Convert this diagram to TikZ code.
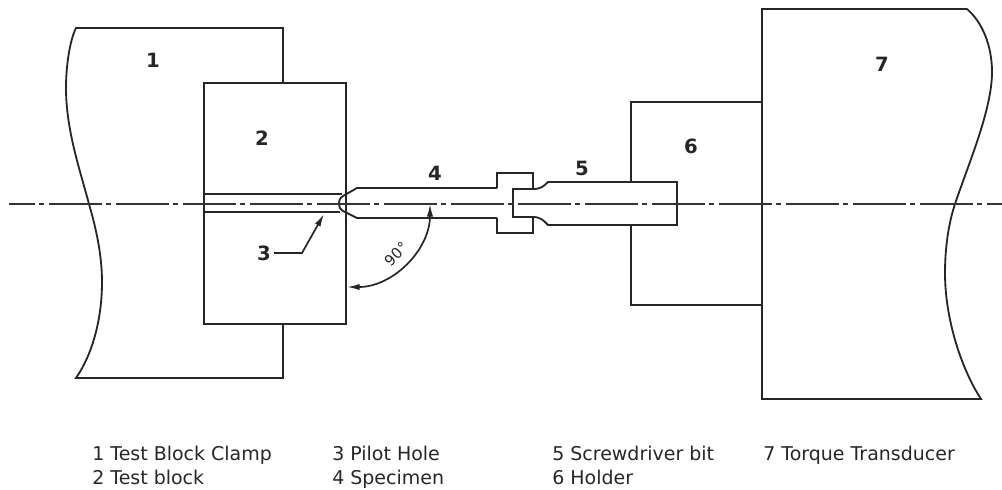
\documentclass[tikz,border=0pt]{standalone}
\usepackage{fontspec}
\setmainfont{DejaVu Sans}
\usetikzlibrary{arrows.meta}
\setlength{\unitlength}{0.025cm}
\newcommand{\partLabel}[3]{%%
  \node[labelStyle] (#1) at (#2) {#3};
}
\newcommand{\keyEntry}[3]{%%
  \node[keyStyle] (#1) at (#2) {#3};
}
\begin{document}
\begin{tikzpicture}[%%
  x=0.025cm,y=-0.025cm,%%
  lineStyle/.style={-,line width=1.3pt,line join=miter,color=black!85},%%
  centreStyle/.style={-,line width=1.2pt,color=black!80,dash pattern=on 53\unitlength off 4\unitlength on 5\unitlength off 5\unitlength,dash phase=27\unitlength},%%
  arrowStyle/.style={-{Latex[length=9pt,width=4.5pt]},line width=1.2pt,color=black!85},%%
  labelStyle/.style={inner sep=0pt,font=\fontsize{14}{14}\selectfont\bfseries,color=black!85},%%
  keyStyle/.style={inner sep=0pt,anchor=base west,font=\fontsize{13.5}{14}\selectfont,color=black!85}
]
\useasboundingbox (0,0) rectangle (1002,489);
%%
%%
%% The centre line.
\coordinate (lineStart) at (9,204);
\coordinate (lineEnd) at (1002,204);
%%
%% The clamp, the block and the pilot hole.
\draw[lineStyle] (283,83) -- (283,28) -- (76,28)
  .. controls (70,40) and (66,65) .. (66,88)
  .. controls (66,130) and (80,170) .. (89,204)
  .. controls (96,228) and (102,255) .. (102,282)
  .. controls (102,320) and (92,355) .. (76,378)
  -- (283,378) -- (283,324);
\draw[lineStyle] (204,83) rectangle (346,324);
\draw[lineStyle] (204,194) -- (342,194);
\draw[lineStyle] (204,212) -- (340,212);
%%
%% The specimen.
\draw[lineStyle] (497,188) -- (357,188) -- (343,196)
  .. controls (340,198) and (339,200) .. (339,204)
  .. controls (339,207) and (340,209) .. (343,211)
  -- (357,218) -- (497,218);
\draw[lineStyle] (497,188) -- (497,173) -- (533,173) -- (533,189)
  -- (513,189) -- (513,217) -- (533,217) -- (533,233) -- (497,233) -- (497,218);
%%
%% The screwdriver bit.
\draw[lineStyle] (533,189) .. controls (541,189) and (544,186) .. (548,182)
  -- (677,182) -- (677,225) -- (548,225)
  .. controls (544,221) and (541,217) .. (533,217);
%%
%% The holder and the transducer.
\draw[lineStyle] (631,182) -- (631,102) -- (762,102);
\draw[lineStyle] (631,225) -- (631,305) -- (762,305);
\draw[lineStyle] (967,9) -- (762,9) -- (762,399) -- (981,399)
  .. controls (962,370) and (945,320) .. (945,273)
  .. controls (945,250) and (948,225) .. (955,204)
  .. controls (968,165) and (992,110) .. (992,72)
  .. controls (992,45) and (982,22) .. (967,9);
%%
\draw[centreStyle] (lineStart) -- (lineEnd);
%%
%% The part numbers.
\partLabel{labelA}{153,60}{1}
\partLabel{labelB}{262,138}{2}
\partLabel{labelC}{264,253}{3}
\partLabel{labelD}{435,173}{4}
\partLabel{labelE}{582,168}{5}
\partLabel{labelF}{691,146}{6}
\partLabel{labelG}{882,64}{7}
%%
%% The leader and the angle.
\coordinate (holeTip) at (324,214);
\coordinate (kneeC) at (302,253);
\draw[arrowStyle] (labelC.east) ++(3,0) -- (kneeC) -- (holeTip);
\coordinate (axisTip) at (430,204);
\coordinate (blockTip) at (347,287);
\draw[arrowStyle,{Latex[length=9pt,width=4.5pt]}-{Latex[length=9pt,width=4.5pt]}] (blockTip) arc (90:0:83);
\node[inner sep=0pt,rotate=45,font=\fontsize{10.5}{11}\selectfont,color=black!85] (angleText) at (396,254) {90°};
%%
%% The key.
\keyEntry{keyA}{92,460}{1 Test Block Clamp}
\keyEntry{keyB}{92,484}{2 Test block}
\keyEntry{keyC}{332,460}{3 Pilot Hole}
\keyEntry{keyD}{332,484}{4 Specimen}
\keyEntry{keyE}{552,460}{5 Screwdriver bit}
\keyEntry{keyF}{552,484}{6 Holder}
\keyEntry{keyG}{763,460}{7 Torque Transducer}
\end{tikzpicture}
\end{document}
